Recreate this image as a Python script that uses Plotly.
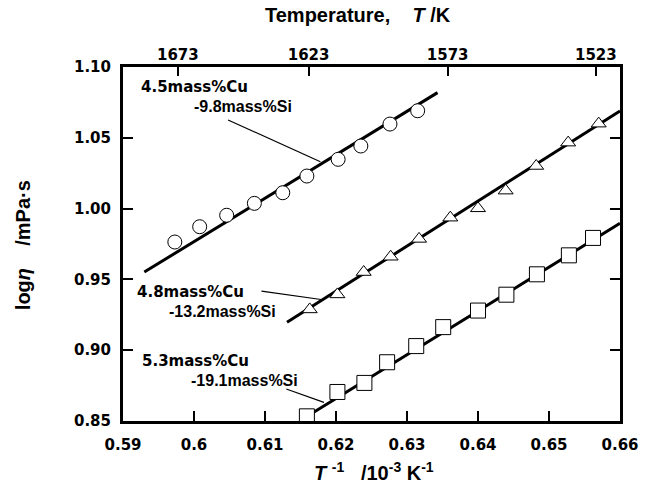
import plotly.graph_objects as go

# --- data ---
circ_x = [0.5973, 0.6008, 0.6046, 0.6085, 0.6125, 0.6159, 0.6203, 0.6235, 0.6276, 0.6315]
circ_y = [0.9764, 0.9872, 0.9953, 1.0037, 1.0112, 1.0230, 1.0348, 1.0442, 1.0597, 1.0691]
tri_x = [0.6163, 0.6202, 0.6239, 0.6277, 0.6317, 0.6361, 0.6400, 0.6439, 0.6482, 0.6527, 0.6570]
tri_y = [0.9288, 0.9394, 0.9552, 0.9660, 0.9786, 0.9936, 1.0002, 1.0127, 1.0301, 1.0466, 1.0600]
sq_x = [0.6159, 0.6202, 0.6240, 0.6272, 0.6313, 0.6351, 0.6400, 0.6440, 0.6483, 0.6528, 0.6562]
sq_y = [0.8533, 0.8705, 0.8769, 0.8915, 0.9029, 0.9163, 0.9280, 0.9392, 0.9536, 0.9670, 0.9793]

# regression lines (end points)
circ_fit_x = [0.5930, 0.6343]
circ_fit_y = [0.9552, 1.0819]
tri_fit_x = [0.6131, 0.6600]
tri_fit_y = [0.9198, 1.0689]
sq_fit_x = [0.6152, 0.6600]
sq_fit_y = [0.8510, 0.9896]

x_ticks = [0.59, 0.60, 0.61, 0.62, 0.63, 0.64, 0.65, 0.66]
x_ticktext = ["0.59", "0.6", "0.61", "0.62", "0.63", "0.64", "0.65", "0.66"]
y_ticks = [0.85, 0.90, 0.95, 1.00, 1.05, 1.10]
y_ticktext = ["0.85", "0.90", "0.95", "1.00", "1.05", "1.10"]
temps = [1673, 1623, 1573, 1523]

labels = [
    # (line1, line2, x1, x2, boundary y between lines, leader x0, y0, x1, y1)
    ("4.5mass%Cu", "-9.8mass%Si", 0.5924, 0.5999, 1.0787, 0.6048, 1.0626, 0.6178, 1.0331),
    ("4.8mass%Cu", "-13.2mass%Si", 0.5918, 0.5963, 0.9337, 0.6095, 0.9417, 0.6179, 0.9358),
    ("5.3mass%Cu", "-19.1mass%Si", 0.5925, 0.5995, 0.8855, 0.6130, 0.8726, 0.6183, 0.8632),
]

TICKFONT = dict(family="DejaVu Sans", size=15, color="black", weight="bold")
LBL1FONT = dict(family="DejaVu Sans", size=15, color="black", weight="bold")
LBL2FONT = dict(family="Liberation Sans", size=16, color="black", weight="bold")

fig = go.Figure()
for fx, fy in [(circ_fit_x, circ_fit_y), (tri_fit_x, tri_fit_y), (sq_fit_x, sq_fit_y)]:
    fig.add_trace(go.Scatter(x=fx, y=fy, mode="lines", line=dict(color="black", width=3),
                             showlegend=False, hoverinfo="skip"))

mk = dict(color="white", line=dict(color="black", width=1))
fig.add_trace(go.Scatter(x=circ_x, y=circ_y, mode="markers", showlegend=False,
                         marker=dict(symbol="circle", size=14, **mk)))
fig.add_trace(go.Scatter(x=tri_x, y=tri_y, mode="markers", showlegend=False,
                         marker=dict(symbol="triangle-up", size=13, **mk)))
fig.add_trace(go.Scatter(x=sq_x, y=sq_y, mode="markers", showlegend=False,
                         marker=dict(symbol="square", size=15, **mk)))
# invisible trace to activate the top temperature axis
fig.add_trace(go.Scatter(x=[0.62], y=[0.9], xaxis="x2", mode="markers",
                         marker=dict(opacity=0), showlegend=False, hoverinfo="skip"))

for l1, l2, ax1, ax2, yb, lx0, ly0, lx1, ly1 in labels:
    fig.add_annotation(x=ax1, y=yb, xref="x", yref="y", text=l1, showarrow=False,
                       xanchor="left", yanchor="bottom", font=LBL1FONT, borderpad=0)
    fig.add_annotation(x=ax2, y=yb, xref="x", yref="y", text=l2, showarrow=False,
                       xanchor="left", yanchor="top", font=LBL2FONT, borderpad=0)
    fig.add_shape(type="line", xref="x", yref="y", x0=lx0, y0=ly0, x1=lx1, y1=ly1,
                  line=dict(color="black", width=1.2))

fig.update_layout(
    width=656, height=492,
    margin=dict(l=123, r=36, t=67, b=71),
    paper_bgcolor="white", plot_bgcolor="white",
    xaxis=dict(range=[0.59, 0.66], tickvals=x_ticks, ticktext=x_ticktext,
               ticks="inside", ticklen=10, tickwidth=2, tickcolor="black",
               showline=True, linewidth=3, linecolor="black", mirror=False,
               showgrid=False, zeroline=False, tickfont=TICKFONT, ticklabelstandoff=8),
    xaxis2=dict(range=[0.59, 0.66], overlaying="x", side="top",
                tickvals=[1000.0 / t for t in temps], ticktext=[str(t) for t in temps],
                ticks="inside", ticklen=9, tickwidth=2, tickcolor="black",
                showline=True, linewidth=3, linecolor="black",
                showgrid=False, zeroline=False, tickfont=TICKFONT, ticklabelstandoff=-2),
    yaxis=dict(range=[0.85, 1.10], tickvals=y_ticks, ticktext=y_ticktext,
               ticks="inside", ticklen=10, tickwidth=2, tickcolor="black",
               showline=True, linewidth=3, linecolor="black", mirror="ticks",
               showgrid=False, zeroline=False, tickfont=TICKFONT, ticklabelstandoff=6),
)

# axis titles
fig.add_annotation(xref="paper", yref="paper", x=0.2817, y=1.147, xanchor="left", yanchor="middle",
                   text="<b>Temperature,    <i>T</i> /K</b>", showarrow=False,
                   font=dict(family="Liberation Sans", size=20, color="black"))
fig.add_annotation(xref="paper", yref="paper", x=0.505, y=-0.144, xanchor="center", yanchor="middle",
                   text="<b><i>T</i> <sup>-1</sup>   /10<sup>-3</sup> K<sup>-1</sup></b>", showarrow=False,
                   font=dict(family="Liberation Sans", size=20, color="black"))
fig.add_annotation(xref="paper", yref="paper", x=-0.201, y=0.497, xanchor="center", yanchor="middle",
                   textangle=-90, text="<b>log<i>η</i>    /mPa·s</b>", showarrow=False,
                   font=dict(family="Liberation Sans", size=20, color="black"))

fig.write_html("out.html")
